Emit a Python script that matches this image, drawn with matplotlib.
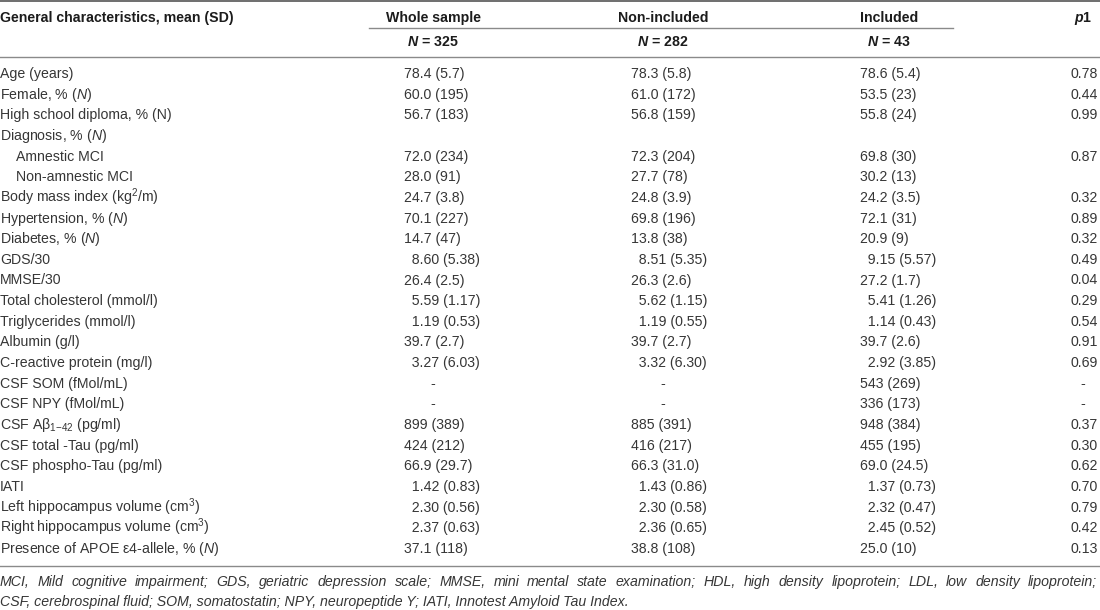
import re
import matplotlib
matplotlib.use('Agg')
import matplotlib.pyplot as plt

plt.rcParams['font.family'] = ['Liberation Sans', 'DejaVu Sans']
plt.rcParams['mathtext.fontset'] = 'custom'
plt.rcParams['mathtext.rm'] = 'Liberation Sans'
plt.rcParams['mathtext.it'] = 'Liberation Sans:italic'
plt.rcParams['mathtext.bf'] = 'Liberation Sans:bold'
plt.rcParams['mathtext.bfit'] = 'Liberation Sans:italic:bold'

# Table data
col_titles = ['Whole sample', 'Non-included', 'Included']
col_n = ['325', '282', '43']

labels = [
    'Age (years)',
    r'Female, % ($\mathit{N}$)',
    'High school diploma, % (N)',
    r'Diagnosis, % ($\mathit{N}$)',
    'Amnestic MCI',
    'Non-amnestic MCI',
    r'Body mass index (kg$^{2}$/m)',
    r'Hypertension, % ($\mathit{N}$)',
    r'Diabetes, % ($\mathit{N}$)',
    'GDS/30',
    'MMSE/30',
    'Total cholesterol (mmol/l)',
    'Triglycerides (mmol/l)',
    'Albumin (g/l)',
    'C-reactive protein (mg/l)',
    'CSF SOM (fMol/mL)',
    'CSF NPY (fMol/mL)',
    r'CSF Aβ$_{\mathrm{1{-}42}}$ (pg/ml)',
    'CSF total -Tau (pg/ml)',
    'CSF phospho-Tau (pg/ml)',
    'IATI',
    r'Left hippocampus volume (cm$^{3}$)',
    r'Right hippocampus volume (cm$^{3}$)',
    r'Presence of APOE ε4-allele, % ($\mathit{N}$)',
]
indented = ['Amnestic MCI', 'Non-amnestic MCI']

whole = ['78.4 (5.7)', '60.0 (195)', '56.7 (183)', '', '72.0 (234)', '28.0 (91)',
         '24.7 (3.8)', '70.1 (227)', '14.7 (47)', '8.60 (5.38)', '26.4 (2.5)',
         '5.59 (1.17)', '1.19 (0.53)', '39.7 (2.7)', '3.27 (6.03)', '-', '-',
         '899 (389)', '424 (212)', '66.9 (29.7)', '1.42 (0.83)', '2.30 (0.56)',
         '2.37 (0.63)', '37.1 (118)']
non_included = ['78.3 (5.8)', '61.0 (172)', '56.8 (159)', '', '72.3 (204)', '27.7 (78)',
                '24.8 (3.9)', '69.8 (196)', '13.8 (38)', '8.51 (5.35)', '26.3 (2.6)',
                '5.62 (1.15)', '1.19 (0.55)', '39.7 (2.7)', '3.32 (6.30)', '-', '-',
                '885 (391)', '416 (217)', '66.3 (31.0)', '1.43 (0.86)', '2.30 (0.58)',
                '2.36 (0.65)', '38.8 (108)']
included = ['78.6 (5.4)', '53.5 (23)', '55.8 (24)', '', '69.8 (30)', '30.2 (13)',
            '24.2 (3.5)', '72.1 (31)', '20.9 (9)', '9.15 (5.57)', '27.2 (1.7)',
            '5.41 (1.26)', '1.14 (0.43)', '39.7 (2.6)', '2.92 (3.85)', '543 (269)',
            '336 (173)', '948 (384)', '455 (195)', '69.0 (24.5)', '1.37 (0.73)',
            '2.32 (0.47)', '2.45 (0.52)', '25.0 (10)']
p1 = ['0.78', '0.44', '0.99', '', '0.87', '', '0.32', '0.89', '0.32', '0.49', '0.04',
      '0.29', '0.54', '0.91', '0.69', '-', '-', '0.37', '0.30', '0.62', '0.70', '0.79',
      '0.42', '0.13']

footnote1 = ('MCI, Mild cognitive impairment; GDS, geriatric depression scale; MMSE, mini mental '
             'state examination; HDL, high density lipoprotein; LDL, low density lipoprotein;')
footnote2 = ('CSF, cerebrospinal fluid; SOM, somatostatin; NPY, neuropeptide Y; '
             'IATI, Innotest Amyloid Tau Index.')

# Layout (pixels)
W, H = 1100, 610
fs = 10.2
txt_col = '#363636'
head_col = '#1c1c1c'
line_col = '#8a8a8a'
col_left = [404, 631, 860]
col_center = [433, 663, 889]
p_right = 1098
p_dash = 1083
row0 = 78
row_h = 20.65

fig = plt.figure(figsize=(W / 100, H / 100), dpi=100)
ax = fig.add_axes([0, 0, 1, 1])
ax.set_xlim(0, W)
ax.set_ylim(H, 0)
ax.axis('off')

# rules
ax.plot([0, W], [0.8, 0.8], color='#555555', lw=1.2)
ax.plot([369, 953], [28, 28], color=line_col, lw=1.0)
ax.plot([0, W], [57, 57], color=line_col, lw=1.0)
ax.plot([0, W], [566, 566], color=line_col, lw=1.0)

# header
ax.text(0, 22, 'General characteristics, mean (SD)', fontsize=fs, fontweight='bold',
        color=head_col, ha='left', va='baseline')
for c, title, n in zip(col_center, col_titles, col_n):
    ax.text(c, 22, title, fontsize=fs, fontweight='bold', color=head_col,
            ha='center', va='baseline')
    ax.text(c, 46.5, r'$\mathbfit{N}$ = ' + n, fontsize=fs, fontweight='bold',
            color=head_col, ha='center', va='baseline')
ax.text(1092, 22, r'$\mathbfit{p}$1', fontsize=fs, fontweight='bold', color=head_col,
        ha='right', va='baseline')

# body
for i, lab in enumerate(labels):
    y = row0 + i * row_h
    x0 = 16 if lab in indented else 0
    ax.text(x0, y, lab, fontsize=fs, color=txt_col, ha='left', va='baseline')
    for j, col in enumerate([whole, non_included, included]):
        v = col[i]
        if not v:
            continue
        if v == '-':
            ax.text(col_center[j], y, v, fontsize=fs, color=txt_col, ha='center', va='baseline')
        else:
            if re.match(r'^\d\.', v):
                v = '  ' + v
            ax.text(col_left[j], y, v, fontsize=fs, color=txt_col, ha='left', va='baseline')
    if p1[i] == '-':
        ax.text(p_dash, y, '-', fontsize=fs, color=txt_col, ha='center', va='baseline')
    elif p1[i]:
        ax.text(p_right, y, p1[i], fontsize=fs, color=txt_col, ha='right', va='baseline')

# footnote, first line justified
renderer = fig.canvas.get_renderer()
words = footnote1.split()
wtexts = [ax.text(0, 586, w, fontsize=fs, style='italic', color=txt_col,
                  ha='left', va='baseline') for w in words]
widths = [t.get_window_extent(renderer).width for t in wtexts]
gap = (1097 - sum(widths)) / (len(words) - 1)
x = 0
for t, w in zip(wtexts, widths):
    t.set_x(x)
    x += w + gap
ax.text(0, 606, footnote2, fontsize=fs, style='italic', color=txt_col,
        ha='left', va='baseline')

fig.savefig('out.png', dpi=100)
